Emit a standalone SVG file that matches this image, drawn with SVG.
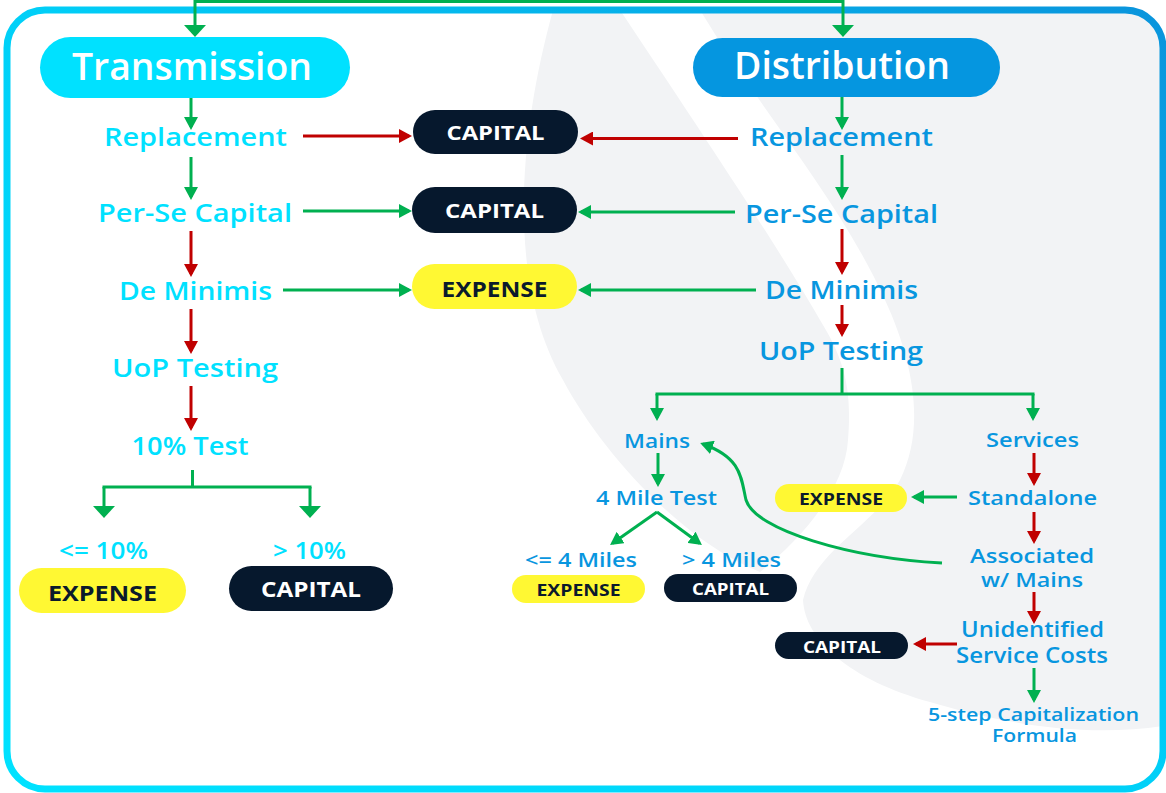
<svg xmlns="http://www.w3.org/2000/svg" width="1166" height="793" viewBox="0 0 1166 793">
<style>
text{font-family:"Open Sans","Liberation Sans",sans-serif;font-weight:600;text-anchor:middle}
.tl{fill:#00e1ff}
.tr{fill:#0896df}
.head{fill:#ffffff;font-weight:600}
.pd{fill:#0b1a2c;font-weight:700}
.pw{fill:#ffffff;font-weight:700}
.yel{fill:#fff833}
.navy{fill:#06182d}
.g{fill:none;stroke:#00b050;stroke-width:3}
.r{fill:none;stroke:#c00000;stroke-width:3}
</style>
<defs>
<linearGradient id="fr" x1="0" y1="1" x2="1" y2="0">
<stop offset="0" stop-color="#00e2ff"/>
<stop offset="0.5" stop-color="#00d0f8"/>
<stop offset="1" stop-color="#0a94dc"/>
</linearGradient>
<clipPath id="inner"><rect x="7" y="10" width="1156" height="779" rx="38"/></clipPath>
<marker id="gs" markerUnits="userSpaceOnUse" viewBox="0 0 13 14" markerWidth="13" markerHeight="14" refX="10" refY="7" orient="auto"><path d="M0,0 L13,7 L0,14 Z" fill="#00b050"/></marker>
<marker id="rs" markerUnits="userSpaceOnUse" viewBox="0 0 13 14" markerWidth="13" markerHeight="14" refX="10" refY="7" orient="auto"><path d="M0,0 L13,7 L0,14 Z" fill="#c00000"/></marker>
<marker id="gl" markerUnits="userSpaceOnUse" viewBox="0 0 12 22" markerWidth="12" markerHeight="22" refX="9" refY="11" orient="auto"><path d="M0,0 L12,11 L0,22 Z" fill="#00b050"/></marker>
</defs>

<rect x="0" y="0" width="1166" height="793" fill="#ffffff"/>
<g id="background" clip-path="url(#inner)" fill="#f2f3f5">
<path d="M553,10 C520,130 505,280 563,380 C600,450 680,540 760,572 C800,540 845,490 848,440 C852,390 845,360 820,320 C780,250 700,130 620,10 Z"/>
<path d="M700,10 C760,110 840,200 885,300 C915,365 925,430 900,480 C875,525 815,550 803,600 C805,640 850,680 930,702 C990,720 1080,740 1170,725 L1170,10 Z"/>
</g>
<rect id="frame" x="7" y="10" width="1156" height="779" rx="38" fill="none" stroke="url(#fr)" stroke-width="7"/>

<g id="connectors">
<path class="g" d="M195,1.5 H843"/>
<path class="g" d="M195,0 V34" marker-end="url(#gl)"/>
<path class="g" d="M843,0 V34" marker-end="url(#gl)"/>
<path class="g" d="M191,98 V127" marker-end="url(#gs)"/>
<path class="g" d="M191,157 V197" marker-end="url(#gs)"/>
<path class="r" d="M191,231 V274" marker-end="url(#rs)"/>
<path class="r" d="M191,309 V351" marker-end="url(#rs)"/>
<path class="r" d="M191,386 V428" marker-end="url(#rs)"/>
<path class="g" d="M192.5,470 V487 M102.5,487 H311.5"/>
<path class="g" d="M104,487 V515" marker-end="url(#gl)"/>
<path class="g" d="M310,487 V515" marker-end="url(#gl)"/>
<path class="r" d="M303,136 H409" marker-end="url(#rs)"/>
<path class="g" d="M303,211 H409" marker-end="url(#gs)"/>
<path class="g" d="M283,290 H409" marker-end="url(#gs)"/>
<path class="r" d="M738,138.5 H583" marker-end="url(#rs)"/>
<path class="g" d="M735,212 H581" marker-end="url(#gs)"/>
<path class="g" d="M756,290 H581" marker-end="url(#gs)"/>
<path class="g" d="M842,97 V127" marker-end="url(#gs)"/>
<path class="g" d="M842,155 V197" marker-end="url(#gs)"/>
<path class="r" d="M842,229 V272" marker-end="url(#rs)"/>
<path class="r" d="M842,305 V334" marker-end="url(#rs)"/>
<path class="g" d="M842,368 V394 M655.5,394 H1034.5"/>
<path class="g" d="M657,394 V418" marker-end="url(#gs)"/>
<path class="g" d="M1033,394 V418" marker-end="url(#gs)"/>
<path class="g" d="M658,453 V484" marker-end="url(#gs)"/>
<path class="g" d="M657,512 L612.5,543.3" marker-end="url(#gs)"/>
<path class="g" d="M657,512 L699.5,543.3" marker-end="url(#gs)"/>
<path class="g" d="M942,563 C850,558 755,530 746,500 C741,478 742,458 703,444" marker-end="url(#gs)"/>
<path class="r" d="M1034,453 V483" marker-end="url(#rs)"/>
<path class="g" d="M957,497 H914" marker-end="url(#gs)"/>
<path class="r" d="M1034,512 V541" marker-end="url(#rs)"/>
<path class="r" d="M1034,592 V621" marker-end="url(#rs)"/>
<path class="r" d="M957,644 H916" marker-end="url(#rs)"/>
<path class="g" d="M1034,668 V700" marker-end="url(#gs)"/>
</g>

<g id="transmission"><rect x="40" y="37" width="310" height="61" rx="30.5" fill="#00e1ff"/><text class="head" x="192" y="80" font-size="37" textLength="240" lengthAdjust="spacingAndGlyphs">Transmission</text></g>
<g id="distribution"><rect x="693" y="38" width="307" height="59" rx="29.5" fill="#0596e0"/><text class="head" x="842" y="79" font-size="37" textLength="216" lengthAdjust="spacingAndGlyphs">Distribution</text></g>

<g id="t-replacement"><text class="tl" x="195.5" y="146" font-size="25" textLength="183" lengthAdjust="spacingAndGlyphs">Replacement</text></g>
<g id="t-perse"><text class="tl" x="195" y="222" font-size="25" textLength="194" lengthAdjust="spacingAndGlyphs">Per-Se Capital</text></g>
<g id="t-deminimis"><text class="tl" x="195.5" y="300" font-size="25" textLength="153" lengthAdjust="spacingAndGlyphs">De Minimis</text></g>
<g id="t-uop"><text class="tl" x="195" y="377" font-size="25" textLength="166" lengthAdjust="spacingAndGlyphs">UoP Testing</text></g>
<g id="t-10test"><text class="tl" x="190" y="455" font-size="25" textLength="117" lengthAdjust="spacingAndGlyphs">10% Test</text></g>
<g id="t-le10"><text class="tl" x="103.5" y="559" font-size="24" textLength="89" lengthAdjust="spacingAndGlyphs">&lt;= 10%</text></g>
<g id="t-gt10"><text class="tl" x="309.5" y="559" font-size="24" textLength="73" lengthAdjust="spacingAndGlyphs">&gt; 10%</text></g>
<g id="t-expense"><rect class="yel" x="19" y="568" width="167" height="45" rx="22.5"/><text class="pd" x="102.5" y="601" font-size="21" textLength="109" lengthAdjust="spacingAndGlyphs">EXPENSE</text></g>
<g id="t-capital"><rect class="navy" x="229" y="566" width="164" height="45" rx="22.5"/><text class="pw" x="311" y="597" font-size="21" textLength="100" lengthAdjust="spacingAndGlyphs">CAPITAL</text></g>

<g id="m-capital1"><rect class="navy" x="413" y="110" width="165" height="44" rx="22"/><text class="pw" x="495.5" y="140" font-size="20" textLength="98" lengthAdjust="spacingAndGlyphs">CAPITAL</text></g>
<g id="m-capital2"><rect class="navy" x="412" y="187" width="165" height="46" rx="23"/><text class="pw" x="494.5" y="218" font-size="20" textLength="99" lengthAdjust="spacingAndGlyphs">CAPITAL</text></g>
<g id="m-expense"><rect class="yel" x="412" y="264" width="165" height="45" rx="22.5"/><text class="pd" x="494.5" y="297" font-size="21" textLength="106" lengthAdjust="spacingAndGlyphs">EXPENSE</text></g>

<g id="d-replacement"><text class="tr" x="841.5" y="146" font-size="25" textLength="183" lengthAdjust="spacingAndGlyphs">Replacement</text></g>
<g id="d-perse"><text class="tr" x="841.5" y="223" font-size="25" textLength="193" lengthAdjust="spacingAndGlyphs">Per-Se Capital</text></g>
<g id="d-deminimis"><text class="tr" x="841.5" y="299" font-size="25" textLength="153" lengthAdjust="spacingAndGlyphs">De Minimis</text></g>
<g id="d-uop"><text class="tr" x="841" y="360" font-size="25" textLength="164" lengthAdjust="spacingAndGlyphs">UoP Testing</text></g>
<g id="d-mains"><text class="tr" x="657" y="448" font-size="20" textLength="66" lengthAdjust="spacingAndGlyphs">Mains</text></g>
<g id="d-4mile"><text class="tr" x="656.5" y="505" font-size="20" textLength="121" lengthAdjust="spacingAndGlyphs">4 Mile Test</text></g>
<g id="d-le4"><text class="tr" x="581" y="567" font-size="20" textLength="112" lengthAdjust="spacingAndGlyphs">&lt;= 4 Miles</text></g>
<g id="d-gt4"><text class="tr" x="731.5" y="567" font-size="20" textLength="99" lengthAdjust="spacingAndGlyphs">&gt; 4 Miles</text></g>
<g id="d-expense-le4"><rect class="yel" x="512" y="575" width="133" height="28" rx="14"/><text class="pd" x="578.5" y="596" font-size="16" textLength="84" lengthAdjust="spacingAndGlyphs">EXPENSE</text></g>
<g id="d-capital-gt4"><rect class="navy" x="664" y="574" width="133" height="28" rx="14"/><text class="pw" x="730.5" y="595" font-size="16" textLength="77" lengthAdjust="spacingAndGlyphs">CAPITAL</text></g>
<g id="d-services"><text class="tr" x="1032.5" y="447" font-size="20" textLength="93" lengthAdjust="spacingAndGlyphs">Services</text></g>
<g id="d-standalone"><text class="tr" x="1032.5" y="505" font-size="20" textLength="129" lengthAdjust="spacingAndGlyphs">Standalone</text></g>
<g id="d-expense-sa"><rect class="yel" x="775" y="484" width="132" height="28" rx="14"/><text class="pd" x="841" y="505" font-size="16" textLength="84" lengthAdjust="spacingAndGlyphs">EXPENSE</text></g>
<g id="d-associated"><text class="tr" x="1032" y="563" font-size="20" textLength="124" lengthAdjust="spacingAndGlyphs">Associated</text><text class="tr" x="1032" y="587" font-size="20" textLength="102" lengthAdjust="spacingAndGlyphs">w/ Mains</text></g>
<g id="d-unidentified"><text class="tr" x="1032.5" y="637" font-size="21" textLength="143" lengthAdjust="spacingAndGlyphs">Unidentified</text><text class="tr" x="1032" y="663" font-size="21" textLength="152" lengthAdjust="spacingAndGlyphs">Service Costs</text></g>
<g id="d-capital-unid"><rect class="navy" x="775" y="632" width="133" height="27" rx="13.5"/><text class="pw" x="842" y="653" font-size="16" textLength="78" lengthAdjust="spacingAndGlyphs">CAPITAL</text></g>
<g id="d-5step"><text class="tr" x="1033.5" y="721" font-size="18" textLength="211" lengthAdjust="spacingAndGlyphs">5-step Capitalization</text><text class="tr" x="1034.5" y="742" font-size="18" textLength="85" lengthAdjust="spacingAndGlyphs">Formula</text></g>
</svg>
